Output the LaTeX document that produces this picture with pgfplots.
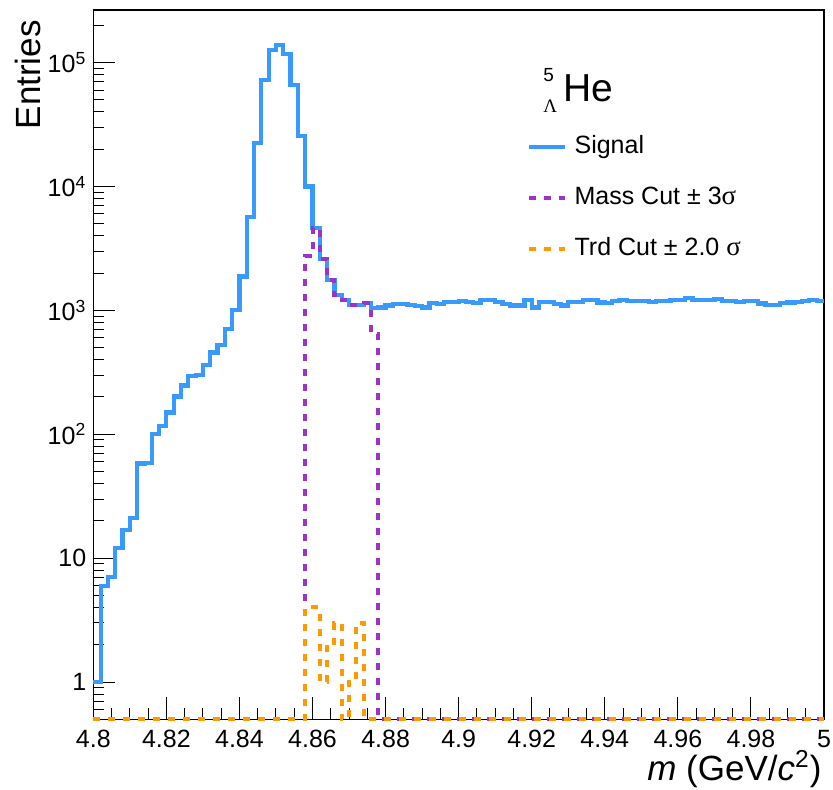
\documentclass[border=0pt]{standalone}
\usepackage{fontspec}
\setmainfont{Liberation Sans}
\newfontfamily\symfont{Liberation Serif}
\usepackage{pgfplots}
\pgfplotsset{compat=1.18}
\definecolor{sigblue}{RGB}{56,154,252}
\definecolor{masspurple}{RGB}{153,51,204}
\definecolor{trdorange}{RGB}{255,153,0}
\begin{document}
\begin{tikzpicture}
\useasboundingbox (0,0) rectangle (416.5pt,394.5pt);
\begin{axis}[
  at={(46.65pt,34.85pt)}, anchor=south west,
  scale only axis, width=365.35pt, height=354.65pt,
  xmin=4.8, xmax=5, ymode=log, ymin=0.5, ymax=2.66e5,
  clip=false,
  axis line style={line width=0.8pt},
  xtick={4.8,4.82,4.84,4.86,4.88,4.9,4.92,4.94,4.96,4.98,5},
  xticklabels={4.8,4.82,4.84,4.86,4.88,4.9,4.92,4.94,4.96,4.98,5},
  minor x tick num=3,
  ytick={1,10,100,1000,10000,100000},
  yticklabels={1,10,10\textsuperscript{2},10\textsuperscript{3},10\textsuperscript{4},10\textsuperscript{5}},
  minor ytick={0.6,0.7,0.8,0.9,2,3,4,5,6,7,8,9,20,30,40,50,60,70,80,90,200,300,400,500,600,700,800,900,2000,3000,4000,5000,6000,7000,8000,9000,20000,30000,40000,50000,60000,70000,80000,90000,200000},
  xtick pos=left, ytick pos=left,
  tick align=inside,
  major tick length=11pt, minor tick length=5.5pt,
  tick style={line width=0.5pt, black},
  ticklabel style={font=\fontsize{12.5}{15}\selectfont},
  xticklabel style={yshift=-2pt},
  xlabel={\textit{m} (GeV/\textit{c}\textsuperscript{2})},
  ylabel={Entries},
  xlabel style={at={(rel axis cs:0.997,-0.0856)}, anchor=base east, inner sep=0pt, font=\fontsize{17.5}{20}\selectfont},
  ylabel style={at={(rel axis cs:-0.0894,0.986)}, anchor=east, inner sep=0pt, font=\fontsize{17.5}{20}\selectfont},
  legend style={at={(rel axis cs:0.5935,0.8238)}, anchor=north west, draw=none, fill=none, inner sep=0pt,
    row sep=13.5pt, column sep=3.5pt, font=\fontsize{12.5}{15}\selectfont,
    nodes={inner sep=0pt, text height=9pt, text depth=3pt}},
  legend cell align=left,
  legend image code/.code={\draw[#1] (-1pt,0pt) -- (17pt,0pt);},
]
\addplot[const plot, sigblue, line width=2.1pt] coordinates {
(4.800,1) (4.802,6) (4.804,7) (4.806,12) (4.808,17) (4.810,21) (4.812,58) (4.814,59) (4.816,100) (4.818,116)
(4.820,150) (4.822,202) (4.824,248) (4.826,297) (4.828,303) (4.830,365) (4.832,458) (4.834,528) (4.836,708) (4.838,1014)
(4.840,1880) (4.842,5670) (4.844,22600) (4.846,72500) (4.848,126500) (4.850,139000) (4.852,117500) (4.854,66000) (4.856,25600) (4.858,10000)
(4.860,4620) (4.862,2600) (4.864,1770) (4.866,1340) (4.868,1219) (4.870,1111) (4.872,1111) (4.874,1153) (4.876,1052) (4.878,1057)
(4.880,1097) (4.882,1125) (4.884,1125) (4.886,1111) (4.888,1085) (4.890,1057) (4.892,1147) (4.894,1125) (4.896,1170) (4.898,1170)
(4.900,1183) (4.902,1170) (4.904,1147) (4.906,1205) (4.908,1205) (4.910,1170) (4.912,1125) (4.914,1097) (4.916,1097) (4.918,1219)
(4.920,1057) (4.922,1170) (4.924,1170) (4.926,1125) (4.928,1097) (4.930,1170) (4.932,1170) (4.934,1205) (4.936,1205) (4.938,1160)
(4.940,1147) (4.942,1183) (4.944,1213) (4.946,1197) (4.948,1197) (4.950,1197) (4.952,1170) (4.954,1183) (4.956,1183) (4.958,1213)
(4.960,1213) (4.962,1259) (4.964,1205) (4.966,1205) (4.968,1219) (4.970,1242) (4.972,1197) (4.974,1197) (4.976,1170) (4.978,1197)
(4.980,1197) (4.982,1137) (4.984,1111) (4.986,1111) (4.988,1147) (4.990,1160) (4.992,1170) (4.994,1197) (4.996,1219) (4.998,1197)
(5.000,1197)
};
\addlegendentry{Signal}
\addplot[const plot, masspurple, line width=2pt, dash pattern=on 3.5pt off 4pt] coordinates {
(4.800,0.5) (4.858,2760) (4.860,4620) (4.862,2600) (4.864,1770) (4.866,1340) (4.868,1219) (4.870,1111) (4.872,1111) (4.874,1153)
(4.876,649) (4.878,0.5) (5.000,0.5)
};
\addlegendentry{Mass Cut ± 3{\symfont\fontsize{13.5}{15}\selectfont σ}}
\addplot[const plot, trdorange, line width=2pt, dash pattern=on 3.5pt off 4pt] coordinates {
(4.800,0.5) (4.858,4) (4.860,4) (4.862,1) (4.864,2) (4.866,3) (4.868,0.5) (4.870,1) (4.872,3) (4.874,0.5) (5.000,0.5)
};
\addlegendentry{Trd Cut ± 2.0 {\symfont\fontsize{13.5}{15}\selectfont σ}}
\node[anchor=base west, inner sep=0pt, font=\fontsize{19.5}{22}\selectfont] at (rel axis cs:0.6428,0.8703) {He};
\node[anchor=base west, inner sep=0pt, font=\fontsize{9.5}{11}\selectfont] at (rel axis cs:0.6155,0.8985) {5};
\node[anchor=base west, inner sep=0pt, font=\symfont\fontsize{9.5}{11}\selectfont] at (rel axis cs:0.6155,0.8548) {Λ};
\end{axis}
\end{tikzpicture}
\end{document}
